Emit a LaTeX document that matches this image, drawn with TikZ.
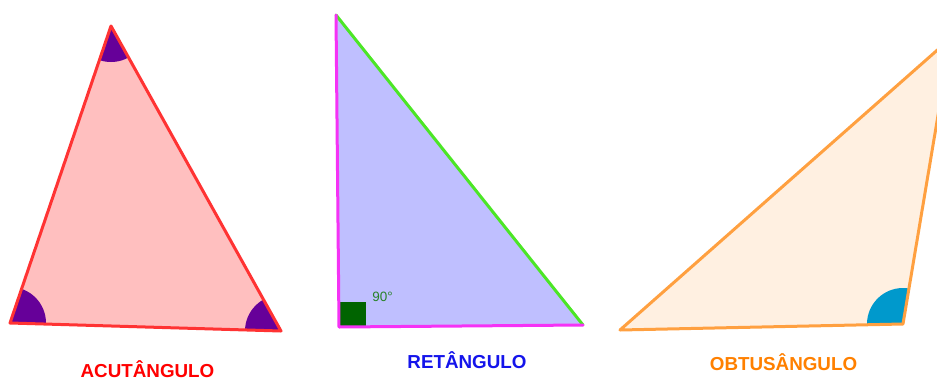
\documentclass[tikz,border=0pt]{standalone}
\usepackage{fontspec}
\setmainfont{Liberation Sans}
\definecolor{acfill}{RGB}{255,191,191}
\definecolor{acline}{RGB}{255,51,51}
\definecolor{acangle}{RGB}{102,0,153}
\definecolor{rtfill}{RGB}{191,191,255}
\definecolor{rtleg}{RGB}{245,50,245}
\definecolor{rthyp}{RGB}{76,230,38}
\definecolor{rtsq}{RGB}{0,100,0}
\definecolor{rtlab}{RGB}{40,130,40}
\definecolor{obfill}{RGB}{255,240,225}
\definecolor{obline}{RGB}{255,160,64}
\definecolor{obangle}{RGB}{0,153,204}
\definecolor{labred}{RGB}{255,0,0}
\definecolor{labblue}{RGB}{20,20,235}
\definecolor{laborange}{RGB}{255,128,0}
\tikzset{
  edge/.style={line width=3pt, line join=round, line cap=round},
  title/.style={font=\fontsize{18.8}{20}\selectfont\bfseries, inner sep=0pt, anchor=center},
}
\begin{document}
\begin{tikzpicture}[x=1pt,y=-1pt]
\useasboundingbox (0,0) rectangle (937,381);
\clip (0,0) rectangle (937,381);
% ---------- acute triangle ----------
\coordinate (A) at (111,26);
\coordinate (B) at (10,323);
\coordinate (C) at (281,331);
\fill[acfill] (A) -- (B) -- (C) -- cycle;
\begin{scope}
  \clip (A) -- (B) -- (C) -- cycle;
  \fill[acangle] (A) circle (36);
  \fill[acangle] (B) circle (36);
  \fill[acangle] (C) circle (36);
\end{scope}
\draw[edge, acline] (A) -- (B) -- (C) -- cycle;
\node[title, text=labred] (lab1) at (147.5,369.5) {ACUTÂNGULO};
% ---------- right triangle ----------
\coordinate (P) at (336,15);
\coordinate (Q) at (339,327);
\coordinate (R) at (583,325);
\fill[rtfill] (P) -- (Q) -- (R) -- cycle;
\fill[rtsq] (Q) rectangle ++(27,-25);
\draw[edge, rthyp] (P) -- (R);
\draw[edge, rtleg] (P) -- (Q) -- (R);
\node[font=\fontsize{13.5}{14}\selectfont, text=rtlab, inner sep=0pt] (deg) at (382.5,297) {90°};
\node[title, text=labblue] (lab2) at (467,360) {RETÂNGULO};
% ---------- obtuse triangle ----------
\coordinate (L) at (620,330);
\coordinate (M) at (903,324);
\coordinate (T) at (951,38);
\fill[obfill] (L) -- (M) -- (T) -- cycle;
\begin{scope}
  \clip (L) -- (M) -- (T) -- cycle;
  \fill[obangle] (M) circle (36);
\end{scope}
\draw[edge, obline] (L) -- (M) -- (T) -- cycle;
\node[title, text=laborange] (lab3) at (783.5,362) {OBTUSÂNGULO};
\end{tikzpicture}
\end{document}
